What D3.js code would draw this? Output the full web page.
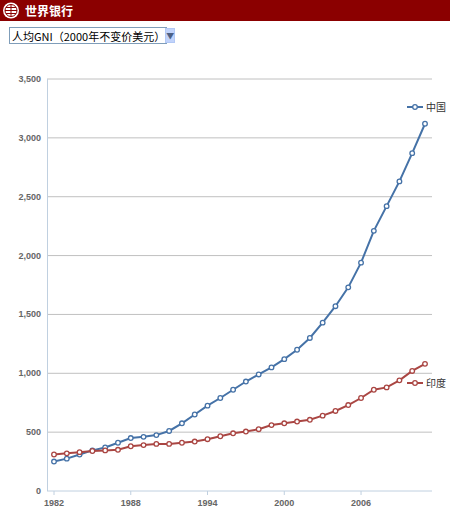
<!DOCTYPE html>
<html><head><meta charset="utf-8">
<script src="https://cdn.jsdelivr.net/npm/d3@7"></script>
<style>
body{margin:0;width:450px;height:527px;background:#fff;font-family:"Noto Sans CJK SC",Arial,sans-serif;overflow:hidden}
#hdr{height:21px;background:#8b0000;color:#fff;font-weight:bold;font-size:12px;display:flex;align-items:center}
#sel{position:absolute;left:9px;top:27px;font-size:11px;height:15px;width:156px;border:1px solid #7f9db9;display:flex;align-items:center;box-sizing:content-box}
#sel span{flex:1;padding-left:2px;white-space:nowrap;color:#000}
#sel b{width:14px;height:13px;margin-right:1px;background:#c1d3fb;border:1px solid #b2c8f5;color:#4d6185;font-size:8px;display:flex;align-items:center;justify-content:center}
</style></head><body>
<div id="hdr"><svg width="22" height="21"><circle cx="11" cy="10.5" r="8" fill="#fff"/><circle cx="11" cy="10.5" r="6" fill="none" stroke="#8b0000" stroke-width="1"/><path d="M5 10.5H17M11 4.5V16.5M6 7.5H16M6 13.5H16" stroke="#8b0000"/></svg><span style="margin-left:3px">世界银行</span></div>
<div id="sel"><span>人均GNI（2000年不变价美元）</span><b>▼</b></div>
<svg id="c" width="450" height="506" style="position:absolute;left:0;top:21px"></svg>
<script>
const years = d3.range(1982, 2012);
const china = [250,275,310,345,370,410,450,460,475,510,575,650,725,790,860,930,990,1050,1120,1200,1300,1430,1570,1730,1940,2210,2420,2630,2870,3120];
const india = [310,320,330,340,345,350,380,390,400,400,410,420,440,465,490,505,525,560,575,590,605,640,680,730,790,860,880,940,1020,1080];
const yTicks = [0,500,1000,1500,2000,2500,3000,3500];
const xTicks = [1982,1988,1994,2000,2006];
const series = [{name:"中国",values:china,color:"#4572a7"},{name:"印度",values:india,color:"#aa4643"}];

const svg = d3.select("#c");
const x = d3.scaleLinear().domain([1982,2011]).range([54,425]);
const y = d3.scaleLinear().domain([0,3500]).range([470,58]);

svg.selectAll(".g").data(yTicks).enter().append("line")
  .attr("x1",47).attr("x2",432).attr("y1",d=>y(d)).attr("y2",d=>y(d))
  .attr("stroke",d=>d===0?"#c0d0e0":"#c0c0c0").attr("stroke-width",1);
svg.append("line").attr("x1",47.5).attr("x2",47.5).attr("y1",y(3500)).attr("y2",y(0)).attr("stroke","#c0d0e0");

svg.selectAll(".yl").data(yTicks).enter().append("text")
  .attr("x",41).attr("y",d=>y(d)+3).attr("text-anchor","end")
  .attr("font-size",9).attr("font-weight","bold").attr("fill","#666").attr("font-family","Arial")
  .text(d=>d3.format(",")(d));
svg.selectAll(".xl").data(xTicks).enter().append("text")
  .attr("x",d=>x(d)).attr("y",y(0)+15).attr("text-anchor","middle")
  .attr("font-size",9).attr("font-weight","bold").attr("fill","#666").attr("font-family","Arial")
  .text(d=>d);
svg.selectAll(".xt").data(xTicks).enter().append("line")
  .attr("x1",d=>x(d)).attr("x2",d=>x(d)).attr("y1",y(0)).attr("y2",y(0)+4).attr("stroke","#c0d0e0");

const line = d3.line().x((d,i)=>x(years[i])).y(d=>y(d));
series.forEach(s=>{
  svg.append("path").datum(s.values).attr("d",line).attr("fill","none").attr("stroke",s.color).attr("stroke-width",2);
  svg.selectAll(null).data(s.values).enter().append("circle")
    .attr("cx",(d,i)=>x(years[i])).attr("cy",d=>y(d)).attr("r",2.3)
    .attr("fill","#fff").attr("stroke",s.color).attr("stroke-width",1.3);
});
// legend
const leg = [{s:series[0],y:86},{s:series[1],y:362}];
leg.forEach(l=>{
  svg.append("line").attr("x1",407).attr("x2",423).attr("y1",l.y).attr("y2",l.y).attr("stroke",l.s.color).attr("stroke-width",2);
  svg.append("circle").attr("cx",415).attr("cy",l.y).attr("r",2.3).attr("fill","#fff").attr("stroke",l.s.color).attr("stroke-width",1.3);
  svg.append("text").attr("x",426).attr("y",l.y+4).attr("font-size",10).attr("fill","#333").text(l.s.name);
});
</script></body></html>
